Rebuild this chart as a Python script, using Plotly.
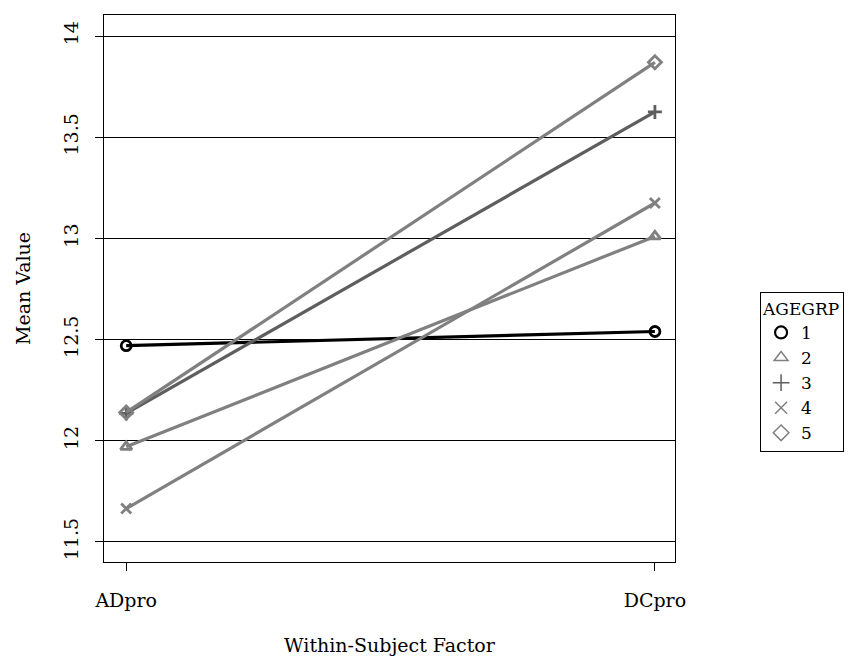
import plotly.graph_objects as go

# Profile plot: mean value per age group across two within-subject levels
conditions = ["ADpro", "DCpro"]
groups = ["1", "2", "3", "4", "5"]
means = {
    "1": [12.47, 12.54],
    "2": [11.97, 13.01],
    "3": [12.135, 13.625],
    "4": [11.665, 13.175],
    "5": [12.14, 13.87],
}
y_ticks = [11.5, 12, 12.5, 13, 13.5, 14]

colors = {"1": "#000000", "2": "#808080", "3": "#5e5e5e", "4": "#808080", "5": "#808080"}
symbols = {"1": "circle-open", "2": "triangle-up-open", "3": "cross-thin-open",
           "4": "x-thin-open", "5": "diamond-open"}

FONT = "DejaVu Serif"
FS = 19
xpos = [1, 2]

fig = go.Figure()
for g in groups:
    fig.add_trace(go.Scatter(
        x=xpos, y=means[g], mode="lines+markers", showlegend=False,
        line=dict(color=colors[g], width=3.2),
        marker=dict(symbol=symbols[g], size=10, color=colors[g],
                    line=dict(color=colors[g], width=2.8)),
    ))
# legend entries: symbols only
for g in groups:
    fig.add_trace(go.Scatter(
        x=[None], y=[None], mode="markers", name=g,
        marker=dict(symbol=symbols[g], size=12, color=colors[g],
                    line=dict(color=colors[g], width=1.5 if g != "1" else 2.2)),
    ))

fig.update_layout(
    width=856, height=656,
    margin=dict(l=104, r=181, t=15, b=94, autoexpand=False),
    paper_bgcolor="white", plot_bgcolor="white",
    font=dict(family=FONT, size=FS, color="black"),
    legend=dict(
        title=dict(text="AGEGRP", font=dict(family=FONT, size=17)),
        x=1.149, xanchor="left", y=0.494, yanchor="top",
        bordercolor="black", borderwidth=1, bgcolor="white",
        font=dict(family=FONT, size=17), itemwidth=30, tracegroupgap=0,
    ),
    xaxis=dict(
        range=[0.958, 2.038], tickvals=xpos, ticktext=conditions,
        showgrid=False, zeroline=False,
        showline=True, linecolor="black", linewidth=1.2, mirror=True,
        ticks="outside", ticklen=8, tickcolor="black", tickwidth=1.2,
        ticklabelstandoff=13,
        tickfont=dict(family=FONT, size=FS),
        title=dict(text="Within-Subject Factor", font=dict(family=FONT, size=FS), standoff=30),
    ),
    yaxis=dict(
        range=[11.401, 14.104], tickvals=y_ticks, ticktext=[str(v) for v in y_ticks],
        tickangle=-90,
        showgrid=True, gridcolor="black", gridwidth=1.2, zeroline=False,
        showline=True, linecolor="black", linewidth=1.2, mirror=True,
        ticks="outside", ticklen=8, tickcolor="black", tickwidth=1.2,
        ticklabelstandoff=9,
        tickfont=dict(family=FONT, size=FS),
        title=dict(text="Mean Value", font=dict(family=FONT, size=FS), standoff=24),
    ),
)

fig.write_html("out.html")
